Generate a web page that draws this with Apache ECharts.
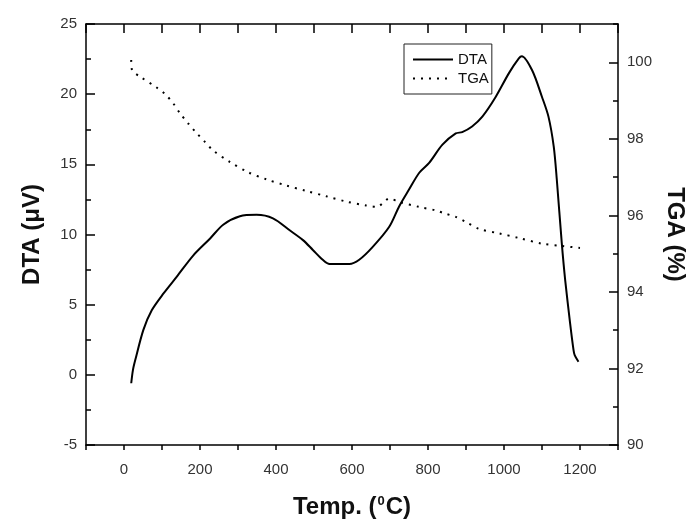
<!DOCTYPE html>
<html>
<head>
<meta charset="utf-8">
<script src="https://cdn.jsdelivr.net/npm/echarts@6/dist/echarts.min.js"></script>
<style>
  html, body { margin: 0; padding: 0; background: #fff; }
  #chart { width: 700px; height: 531px; }
</style>
</head>
<body>
<div id="chart"></div>
<script>
// DTA curve (temperature in °C, signal in µV)
const dtaTemp = [19, 23.5, 29.6, 51, 73, 104, 139, 182, 226, 261, 305, 349, 392, 436, 471, 497, 523, 541,
  593, 619, 654, 698, 724, 750, 777, 803, 838, 873, 890, 916, 943, 978, 1013, 1039, 1047, 1074, 1100,
  1117, 1131, 1139, 1152, 1161, 1174, 1183, 1186, 1196];
const dtaValue = [-0.6, 0.34, 1.05, 3.2, 4.6, 5.8, 7.0, 8.5, 9.7, 10.7, 11.3, 11.4, 11.15, 10.3, 9.6, 8.9, 8.2, 7.9,
  7.9, 8.2, 9.1, 10.55, 12.0, 13.2, 14.4, 15.1, 16.4, 17.2, 17.3, 17.7, 18.4, 19.8, 21.5, 22.55, 22.7, 21.7, 19.8,
  18.4, 16.25, 13.9, 9.4, 6.75, 3.67, 1.76, 1.4, 0.93];

// TGA curve (temperature in °C, mass in %)
const tgaTemp = [19, 21, 43, 86, 108, 130, 148, 169, 191, 213, 234, 278, 326, 375, 427, 479, 532, 585,
  637, 667, 680, 698, 724, 777, 820, 847, 873, 899, 934, 986, 1039, 1100, 1152, 1200];
const tgaValue = [100.06, 99.8, 99.62, 99.34, 99.17, 98.92, 98.66, 98.4, 98.15, 97.92, 97.7, 97.4, 97.13, 96.94,
  96.78, 96.64, 96.5, 96.36, 96.26, 96.22, 96.31, 96.44, 96.35, 96.22, 96.13, 96.04, 95.96, 95.83, 95.65,
  95.53, 95.41, 95.26, 95.2, 95.15];

const xLabels = [0, 200, 400, 600, 800, 1000, 1200];
const tgaTicks = [90, 92, 94, 96, 98, 100];

const chart = echarts.init(document.getElementById('chart'));

const labelFont = { fontFamily: 'Liberation Sans, Arial, sans-serif', fontSize: 15, color: '#333' };
const nameFont = { fontFamily: 'Liberation Sans, Arial, sans-serif', fontSize: 24, fontWeight: 'bold', color: '#111' };
const blackLine = { onZero: false, lineStyle: { color: '#000', width: 1.5 } };

const option = {
  backgroundColor: '#fff',
  animation: false,
  grid: { left: 86, right: 82, top: 24, bottom: 86 },
  legend: {
    orient: 'vertical',
    left: 404,
    top: 44,
    padding: [8, 3, 8, 8],
    itemWidth: 40,
    itemHeight: 14,
    itemGap: 4,
    borderColor: '#222',
    borderWidth: 1,
    borderRadius: 0,
    itemStyle: { opacity: 0 },
    textStyle: { fontFamily: 'Liberation Sans, Arial, sans-serif', fontSize: 15, color: '#111' },
    data: ['DTA', 'TGA']
  },
  xAxis: [
    {
      type: 'value',
      min: -100,
      max: 1300,
      interval: 100,
      name: '{t|Temp. (}{s|0}{t|C)}',
      nameLocation: 'middle',
      nameGap: 50,
      nameTextStyle: {
        rich: {
          t: nameFont,
          s: { fontFamily: 'Liberation Sans, Arial, sans-serif', fontSize: 13, fontWeight: 'bold', color: '#111', verticalAlign: 'top', padding: [0, 1, 10, 1] }
        }
      },
      axisLine: blackLine,
      axisTick: { inside: false, length: 5, lineStyle: { color: '#000', width: 1.5 } },
      axisLabel: Object.assign({
        margin: 17,
        formatter: v => (xLabels.indexOf(v) >= 0 ? String(v) : '')
      }, labelFont),
      splitLine: { show: false }
    },
    {
      type: 'value',
      position: 'top',
      min: -100,
      max: 1300,
      interval: 100,
      axisLine: blackLine,
      axisTick: { inside: true, length: 9, lineStyle: { color: '#000', width: 1.5 } },
      axisLabel: { show: false },
      splitLine: { show: false }
    }
  ],
  yAxis: [
    {
      type: 'value',
      min: -5,
      max: 25,
      interval: 5,
      name: 'DTA (\u03bcV)',
      nameLocation: 'middle',
      nameGap: 42,
      nameTextStyle: nameFont,
      axisLine: Object.assign({ show: true }, blackLine),
      axisTick: { inside: true, length: 9, lineStyle: { color: '#000', width: 1.5 } },
      minorTick: { show: true, splitNumber: 2, length: 5, lineStyle: { color: '#000', width: 1.5 } },
      axisLabel: Object.assign({ margin: 9 }, labelFont),
      splitLine: { show: false },
      minorSplitLine: { show: false }
    },
    {
      type: 'value',
      position: 'right',
      min: 90,
      max: 101,
      interval: 1,
      name: 'TGA (%)',
      nameLocation: 'middle',
      nameGap: 31,
      nameRotate: -90,
      nameTextStyle: nameFont,
      axisLine: Object.assign({ show: true }, blackLine),
      axisTick: { inside: true, length: 5, lineStyle: { color: '#000', width: 1.5 } },
      axisLabel: Object.assign({
        margin: 9,
        formatter: v => (tgaTicks.indexOf(v) >= 0 ? String(v) : '')
      }, labelFont),
      splitLine: { show: false }
    },
    {
      // longer ticks at the labelled TGA values
      type: 'value',
      position: 'right',
      min: 90,
      max: 101,
      interval: 1,
      axisLine: { show: false, onZero: false },
      axisTick: { show: true, inside: true, length: 9, customValues: tgaTicks, lineStyle: { color: '#000', width: 1.5 } },
      axisLabel: { show: false },
      splitLine: { show: false }
    }
  ],
  series: [
    {
      name: 'DTA',
      type: 'line',
      xAxisIndex: 0,
      yAxisIndex: 0,
      data: dtaTemp.map((t, i) => [t, dtaValue[i]]),
      symbol: 'none',
      smooth: 0.3,
      lineStyle: { color: '#000', width: 2 },
      itemStyle: { color: '#000' }
    },
    {
      name: 'TGA',
      type: 'line',
      xAxisIndex: 0,
      yAxisIndex: 1,
      data: tgaTemp.map((t, i) => [t, tgaValue[i]]),
      symbol: 'none',
      smooth: 0.3,
      lineStyle: { color: '#000', width: 2, type: [2, 6] },
      itemStyle: { color: '#000' }
    }
  ]
};

chart.setOption(option);
</script>
</body>
</html>
